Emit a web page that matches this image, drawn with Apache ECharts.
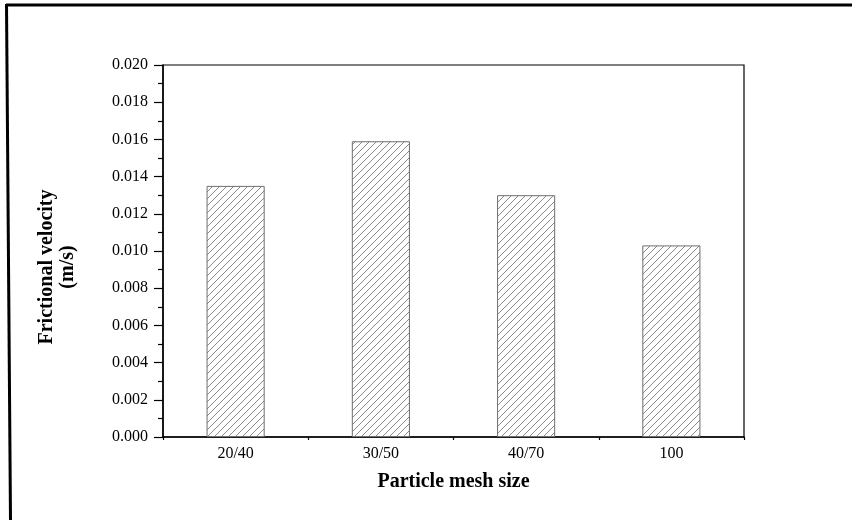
<!DOCTYPE html>
<html>
<head>
<meta charset="utf-8">
<script src="https://cdn.jsdelivr.net/npm/echarts@6/dist/echarts.min.js"></script>
<style>html,body{margin:0;padding:0;background:#fff}#c{width:852px;height:520px}</style>
</head>
<body>
<div id="c"></div>
<script>
const categories = ['20/40', '30/50', '40/70', '100'];
const velocity = [0.0135, 0.0159, 0.0130, 0.0103];
const xName = 'Particle mesh size';
const yName = 'Frictional velocity\n(m/s)';

function hatch() {
  const s = 7;
  const c = document.createElement('canvas');
  c.width = s; c.height = s;
  const g = c.getContext('2d');
  g.fillStyle = '#fff'; g.fillRect(0, 0, s, s);
  g.strokeStyle = '#8a8a8a'; g.lineWidth = 1;
  g.beginPath();
  g.moveTo(-1, s + 1); g.lineTo(s + 1, -1);
  g.moveTo(-1, 1); g.lineTo(1, -1);
  g.moveTo(s - 1, s + 1); g.lineTo(s + 1, s - 1);
  g.stroke();
  return c;
}

const font = 'Liberation Serif';
const chart = echarts.init(document.getElementById('c'), null, {renderer: 'canvas'});
chart.setOption({
  animation: false,
  backgroundColor: '#fff',
  grid: {left: 163, right: 108, top: 65, bottom: 83, show: true, borderColor: '#000', borderWidth: 1.2, backgroundColor: 'transparent'},
  graphic: [
    {type: 'line', shape: {x1: 6, y1: 5, x2: 852, y2: 5}, style: {stroke: '#000', lineWidth: 3}},
    {type: 'line', shape: {x1: 6.5, y1: 4, x2: 10.5, y2: 520}, style: {stroke: '#000', lineWidth: 3}}
  ],
  xAxis: [{
    type: 'category', data: categories, position: 'bottom',
    axisLine: {lineStyle: {color: '#000', width: 1.5}},
    axisTick: {alignWithLabel: true, length: 6, lineStyle: {color: '#000', width: 1.5}},
    axisLabel: {color: '#000', fontFamily: font, fontSize: 16, margin: 9},
    name: xName, nameLocation: 'middle', nameGap: 35,
    nameTextStyle: {color: '#000', fontFamily: font, fontSize: 20, fontWeight: 'bold'}
  }, {
    type: 'category', data: categories, position: 'bottom',
    axisLine: {show: false},
    axisTick: {show: true, length: 3, lineStyle: {color: '#000', width: 1.2}},
    axisLabel: {show: false}
  }],
  yAxis: {
    type: 'value', min: 0, max: 0.02, interval: 0.002,
    axisLine: {show: true, lineStyle: {color: '#000', width: 1.5}},
    axisTick: {show: true, length: 9, lineStyle: {color: '#000', width: 1.2}},
    minorTick: {show: true, splitNumber: 2, length: 5, lineStyle: {color: '#000', width: 1.2}},
    splitLine: {show: false},
    axisLabel: {color: '#000', fontFamily: font, fontSize: 16, margin: 15, formatter: v => v.toFixed(3)},
    name: yName, nameLocation: 'middle', nameGap: 85, nameRotate: 90,
    nameTextStyle: {color: '#000', fontFamily: font, fontSize: 20, fontWeight: 'bold', lineHeight: 21, padding: [0, 32, 0, 0]}
  },
  series: [{
    type: 'bar', data: velocity, barWidth: '40%', xAxisIndex: 0,
    itemStyle: {color: {image: hatch(), repeat: 'repeat'}, borderColor: '#6e6e6e', borderWidth: 1}
  }]
});
</script>
</body>
</html>
